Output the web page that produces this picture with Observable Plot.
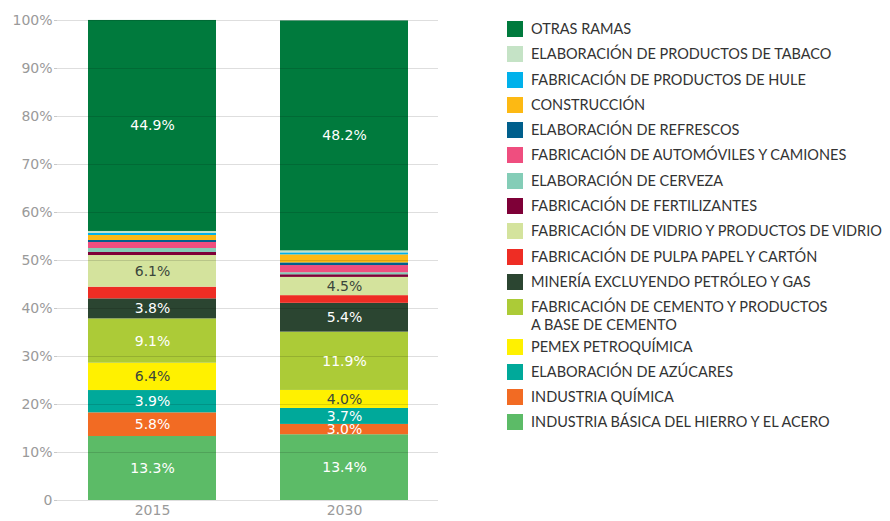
<!DOCTYPE html>
<html>
<head>
<meta charset="utf-8">
<script src="https://cdn.jsdelivr.net/npm/d3@7"></script>
<script src="https://cdn.jsdelivr.net/npm/@observablehq/plot@0.6"></script>
<style>
  html, body { margin: 0; padding: 0; background: #fff; }
  #wrap { position: relative; width: 890px; height: 521px; }
  #legend { position: absolute; left: 507px; top: 20px; font-family: Lato, "Open Sans", sans-serif; font-size: 14.5px; color: #333; }
  .row { display: flex; align-items: flex-start; height: 25.3px; }
  .row.two { height: 39.3px; }
  .sw { width: 16px; height: 16px; margin-top: 1px; flex: none; }
  .txt { margin-left: 8px; line-height: 18px; white-space: nowrap; }
</style>
</head>
<body>
<div id="wrap"><div id="legend"></div></div>
<script>
// Categories, bottom of the stack to top
const categories = [
  "INDUSTRIA BÁSICA DEL HIERRO Y EL ACERO",
  "INDUSTRIA QUÍMICA",
  "ELABORACIÓN DE AZÚCARES",
  "PEMEX PETROQUÍMICA",
  "FABRICACIÓN DE CEMENTO Y PRODUCTOS\nA BASE DE CEMENTO",
  "MINERÍA EXCLUYENDO PETRÓLEO Y GAS",
  "FABRICACIÓN DE PULPA PAPEL Y CARTÓN",
  "FABRICACIÓN DE VIDRIO Y PRODUCTOS DE VIDRIO",
  "FABRICACIÓN DE FERTILIZANTES",
  "ELABORACIÓN DE CERVEZA",
  "FABRICACIÓN DE AUTOMÓVILES Y CAMIONES",
  "ELABORACIÓN DE REFRESCOS",
  "CONSTRUCCIÓN",
  "FABRICACIÓN DE PRODUCTOS DE HULE",
  "ELABORACIÓN DE PRODUCTOS DE TABACO",
  "OTRAS RAMAS"
];
const colors = [
  "#5cbb67", "#f26b23", "#00a99a", "#fff100", "#accb37", "#2b4531",
  "#ee2d24", "#d4e39d", "#7e0037", "#84cdb7", "#ef4e7f", "#005f8c",
  "#fdb913", "#00b1eb", "#c5e3c6", "#007a3d"
];
const years = ["2015", "2030"];
// Segment shares (%) as drawn
const values2015 = [13.33, 4.93, 4.65, 5.69, 9.24, 4.17, 2.43, 6.6, 0.63, 0.83, 1.25, 0.42, 1.04, 0.42, 0.42, 43.96];
const values2030 = [13.7, 2.15, 3.33, 3.75, 12.15, 6.0, 1.6, 3.8, 0.55, 0.42, 1.5, 0.55, 1.67, 0.42, 0.42, 47.9];
// Printed labels
const labels2015 = ["13.3%", "5.8%", "3.9%", "6.4%", "9.1%", "3.8%", "", "6.1%", "", "", "", "", "", "", "", "44.9%"];
const labels2030 = ["13.4%", "3.0%", "3.7%", "4.0%", "11.9%", "5.4%", "", "4.5%", "", "", "", "", "", "", "", "48.2%"];
const darkLabelCats = [categories[3], categories[7]];
const yTicks = [0, 10, 20, 30, 40, 50, 60, 70, 80, 90, 100];

const data = [];
categories.forEach((c, i) => {
  data.push({year: years[0], cat: c, value: values2015[i], label: labels2015[i]});
});
categories.forEach((c, i) => {
  data.push({year: years[1], cat: c, value: values2030[i], label: labels2030[i]});
});

const chart = Plot.plot({
  width: 890,
  height: 521,
  marginLeft: 57,
  marginRight: 452,
  marginTop: 20,
  marginBottom: 21,
  style: {fontFamily: "'DejaVu Sans', sans-serif", background: "transparent"},
  x: {domain: years, paddingInner: 0.335, paddingOuter: 0.156, label: null},
  y: {domain: [0, 100], label: null},
  color: {domain: categories, range: colors},
  marks: [
    Plot.barY(data, Plot.stackY({x: "year", y: "value", z: "cat", fill: "cat", order: null})),
    Plot.gridY(yTicks, {stroke: "#000", strokeOpacity: 0.13}),
    Plot.ruleX([0], {frameAnchor: "left", stroke: "#d0d0d0"}),
    Plot.text(data, Plot.stackY({
      x: "year", y: "value", z: "cat", order: null,
      text: "label",
      fill: d => darkLabelCats.includes(d.cat) ? "#3b463b" : "#ffffff",
      fontSize: 14
    })),
    Plot.axisY(yTicks, {
      tickSize: 3, tickPadding: 2, fontSize: 14, color: "#9a9a9a", stroke: "#c8c8c8",
      tickFormat: d => d === 0 ? "0" : d + "%"
    }),
    Plot.axisX({tickSize: 0, tickPadding: 5, fontSize: 14, color: "#9a9a9a"})
  ]
});
// y-axis line drawn via a rule at the left edge
document.getElementById("wrap").prepend(chart);
chart.style.position = "absolute";
chart.style.left = "0";
chart.style.top = "0";

const legend = document.getElementById("legend");
categories.slice().reverse().forEach(c => {
  const i = categories.indexOf(c);
  const row = document.createElement("div");
  row.className = "row" + (c.includes("\n") ? " two" : "");
  const sw = document.createElement("div");
  sw.className = "sw";
  sw.style.background = colors[i];
  const t = document.createElement("div");
  t.className = "txt";
  t.innerHTML = c.split("\n").join("<br>");
  row.appendChild(sw);
  row.appendChild(t);
  legend.appendChild(row);
});
</script>
</body>
</html>
